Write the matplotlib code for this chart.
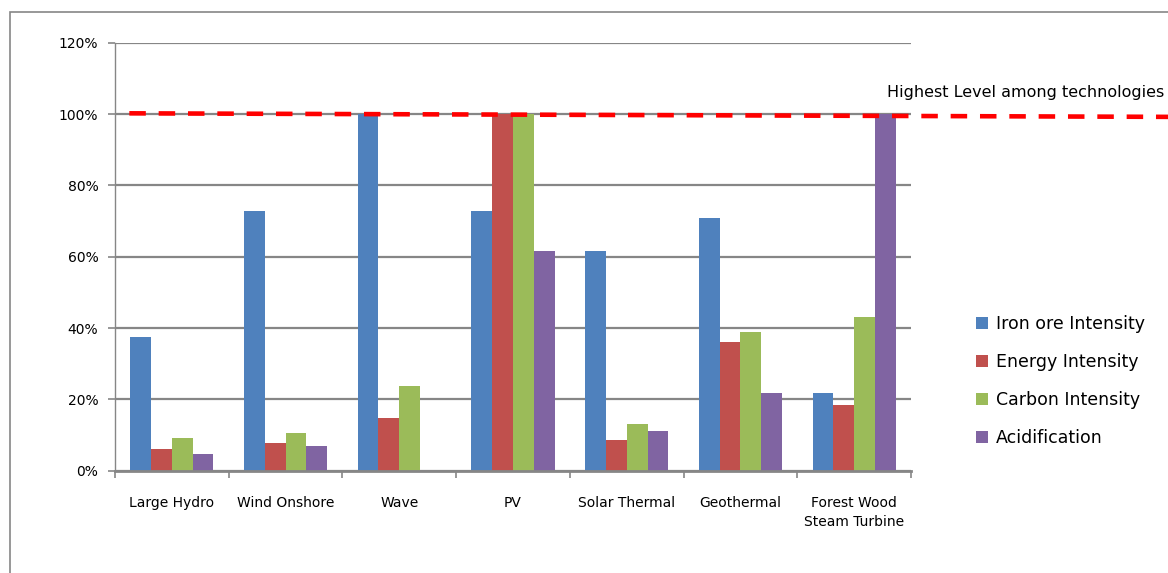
import numpy as np
import matplotlib
matplotlib.use('Agg')
import matplotlib.pyplot as plt
from matplotlib.patches import Rectangle
import matplotlib.transforms as mtransforms

categories = ['Large Hydro', 'Wind Onshore', 'Wave', 'PV', 'Solar Thermal',
              'Geothermal', 'Forest Wood\nSteam Turbine']
iron_ore = [37.5, 72.9, 100.0, 72.9, 61.6, 70.8, 21.8]
energy = [6.1, 7.8, 14.8, 100.0, 8.6, 36.1, 18.4]
carbon = [9.2, 10.6, 23.8, 100.0, 13.1, 38.9, 43.0]
acidification = [4.7, 6.9, 0.0, 61.6, 11.2, 21.8, 100.0]
series_names = ['Iron ore Intensity', 'Energy Intensity', 'Carbon Intensity', 'Acidification']
colors = ['#4F81BD', '#C0504D', '#9BBB59', '#8064A2']
y_ticks = [0, 20, 40, 60, 80, 100, 120]
highest_line = [100.2, 99.2]  # slightly hand-drawn, droops to the right
grid_color = '#868686'

plt.rcParams['font.family'] = ['DejaVu Sans']

fig = plt.figure(figsize=(11.68, 5.73), dpi=100)
W, H = 1168, 573
ax = fig.add_axes([115 / W, (H - 470.7) / H, 796 / W, 428 / H])

# outer chart border (runs off the right and bottom edges)
fig.patches.append(Rectangle((10 / W, -0.1), 1.2, (H - 12) / H + 0.1,
                             transform=fig.transFigure, fill=False,
                             edgecolor=grid_color, lw=1.2))

x = np.arange(len(categories))
bw = 0.183
for i, (vals, name) in enumerate(zip([iron_ore, energy, carbon, acidification], series_names)):
    ax.bar(x + (i - 1.5) * bw, vals, width=bw, color=colors[i], label=name, zorder=3)

ax.set_xlim(-0.5, len(categories) - 0.5)
ax.set_ylim(0, 120)
ax.set_yticks(y_ticks)
ax.set_yticklabels([f'{t}%' for t in y_ticks], fontsize=10)
ax.yaxis.grid(True, color=grid_color, lw=1.6, zorder=1)
ax.tick_params(axis='y', length=5, width=1.2, color=grid_color, pad=7)

ax.set_xticks(x)
ax.set_xticklabels(categories, fontsize=10, linespacing=1.5)
ax.set_xticks(np.arange(len(categories) + 1) - 0.5, minor=True)
ax.tick_params(axis='x', which='major', length=0, pad=18)
ax.tick_params(axis='x', which='minor', length=5, width=1.2, color=grid_color)

for side in ['top', 'right']:
    ax.spines[side].set_visible(False)
ax.spines['left'].set_color(grid_color)
ax.spines['left'].set_linewidth(1.0)
ax.spines['bottom'].set_color(grid_color)
ax.spines['bottom'].set_linewidth(2.0)
ax.spines['bottom'].set_zorder(4)

# highest level dashed line, running past the plot to the picture edge
trans = mtransforms.blended_transform_factory(ax.transAxes, ax.transData)
ax.plot([0.018, 1.33], highest_line, transform=trans, color='#FF0000',
        lw=3.3, ls=(0, (3.6, 2.8)), clip_on=False, zorder=5)
fig.text(887 / W, (H - 93) / H, 'Highest Level among technologies',
         fontsize=11.5, va='center', ha='left')

fig.legend(loc='upper left', bbox_to_anchor=(976 / W, (H - 315) / H),
           frameon=False, fontsize=12.5, handlelength=0.7, handleheight=0.7,
           handletextpad=0.45, labelspacing=1.15, borderpad=0, borderaxespad=0)

fig.savefig('out.png', dpi=100)
